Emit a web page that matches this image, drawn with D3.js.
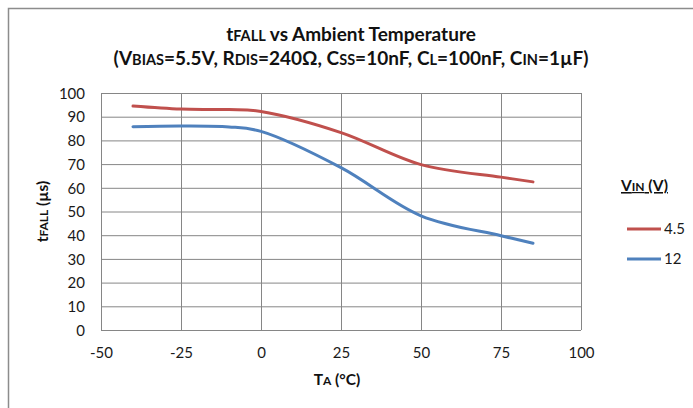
<!DOCTYPE html>
<html><head><meta charset="utf-8">
<script src="https://cdn.jsdelivr.net/npm/d3@7/dist/d3.min.js"></script>
<style>body{margin:0;background:#fff}svg{display:block}text{font-family:Lato,"Open Sans",sans-serif}</style>
</head><body><svg id="c" width="693" height="408"></svg>
<script>
const temps = [-40, -25, -10, 0, 25, 50, 75, 85];
const vin45 = [94.5, 93.2, 93.0, 92.2, 83.3, 69.8, 64.5, 62.5];
const vin12 = [85.8, 86.1, 85.7, 83.8, 68.5, 48.2, 39.8, 36.6];
const seriesNames = ["4.5", "12"];
const seriesColors = ["#C0504D", "#4F81BD"];
const xTicks = [-50, -25, 0, 25, 50, 75, 100];
const yTicks = [0, 10, 20, 30, 40, 50, 60, 70, 80, 90, 100];

const svg = d3.select("#c");
const L = 101, R = 581, T = 93, B = 330;
const x = d3.scaleLinear().domain([-50, 100]).range([L, R]);
const y = d3.scaleLinear().domain([0, 100]).range([B, T]);

// outer frame
svg.append("path").attr("d", "M8.5,408V8.5H693").attr("fill", "none").attr("stroke", "#8c8c8c").attr("stroke-width", 1.5);

// grid
const gx = svg.append("g").attr("transform", `translate(0,${B})`)
  .call(d3.axisBottom(x).tickValues(xTicks).tickSize(-(B - T)).tickFormat(d => d));
gx.select(".domain").remove();
gx.selectAll("line").attr("stroke", "#868686");
gx.selectAll("text").attr("dy", null).attr("y", 28).attr("fill", "#1a1a1a").style("font-size", "15px");

const gy = svg.append("g").attr("transform", `translate(${L},0)`)
  .call(d3.axisLeft(y).tickValues(yTicks).tickSize(-(R - L)).tickFormat(d => d));
gy.select(".domain").remove();
gy.selectAll("line").attr("stroke", "#868686");
gy.selectAll("text").attr("x", -16).attr("dy", "0.35em").attr("fill", "#1a1a1a").style("font-size", "15px");

// lines
const line = d3.line().x((d, i) => x(temps[i])).y(d => y(d)).curve(d3.curveCatmullRom.alpha(0.5));
[vin45, vin12].forEach((s, k) => {
  svg.append("path").datum(s).attr("d", line).attr("fill", "none")
    .attr("stroke", seriesColors[k]).attr("stroke-width", 3).attr("stroke-linecap", "round");
});

// title
const t1 = svg.append("text").attr("x", 351).attr("y", 41).attr("text-anchor", "middle")
  .style("font-size", "19px").style("font-weight", "bold").attr("fill", "#111");
t1.append("tspan").text("t");
t1.append("tspan").style("font-size", "14.5px").text("FALL");
t1.append("tspan").text(" vs Ambient Temperature");

const t2 = svg.append("text").attr("x", 351).attr("y", 65).attr("text-anchor", "middle")
  .style("font-size", "19px").style("font-weight", "bold").attr("fill", "#111");
[["(V", 0], ["BIAS", 1], ["=5.5V, R", 0], ["DIS", 1], ["=240Ω, C", 0], ["SS", 1], ["=10nF, C", 0], ["L", 1], ["=100nF, C", 0], ["IN", 1], ["=1µF)", 0]]
  .forEach(([s, sm]) => t2.append("tspan").style("font-size", sm ? "14.5px" : "19px").text(s));

// axis titles
const yl = svg.append("text").attr("transform", `translate(48,${(T + B) / 2}) rotate(-90)`).attr("text-anchor", "middle")
  .style("font-size", "15.5px").style("font-weight", "bold").attr("fill", "#111");
yl.append("tspan").text("t");
yl.append("tspan").style("font-size", "12px").text("FALL");
yl.append("tspan").text(" (µs)");

const xl = svg.append("text").attr("x", 337).attr("y", 385).attr("text-anchor", "middle")
  .style("font-size", "15.5px").style("font-weight", "bold").attr("fill", "#111");
xl.append("tspan").text("T");
xl.append("tspan").style("font-size", "12px").text("A");
xl.append("tspan").text(" (°C)");

// legend
const lt = svg.append("text").attr("x", 621).attr("y", 191)
  .style("font-size", "15.5px").style("font-weight", "bold").style("text-decoration", "underline").attr("fill", "#111");
lt.append("tspan").text("V");
lt.append("tspan").style("font-size", "12px").text("IN");
lt.append("tspan").text(" (V)");

seriesNames.forEach((n, k) => {
  const yy = 229 + k * 30;
  svg.append("line").attr("x1", 627).attr("x2", 661).attr("y1", yy).attr("y2", yy)
    .attr("stroke", seriesColors[k]).attr("stroke-width", 3);
  svg.append("text").attr("x", 664).attr("y", yy + 5).style("font-size", "15px").attr("fill", "#1a1a1a").text(n);
});
</script></body></html>
